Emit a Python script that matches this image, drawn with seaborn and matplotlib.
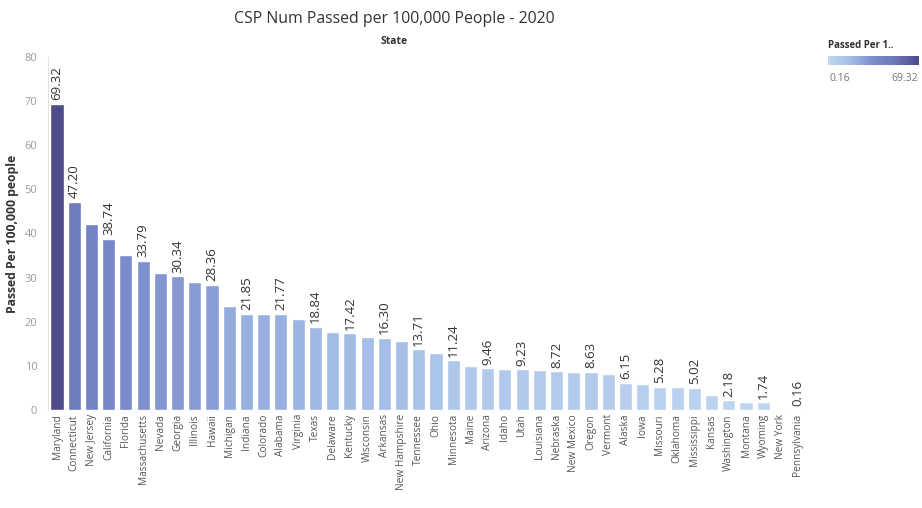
import numpy as np
import pandas as pd
import seaborn as sns
import matplotlib
matplotlib.use("Agg")
import matplotlib.pyplot as plt
from matplotlib.colors import LinearSegmentedColormap, Normalize

# ==========================================
# 1. DADOS
# ==========================================
states = [
    "Maryland", "Connecticut", "New Jersey", "California", "Florida",
    "Massachusetts", "Nevada", "Georgia", "Illinois", "Hawaii",
    "Michigan", "Indiana", "Colorado", "Alabama", "Virginia",
    "Texas", "Delaware", "Kentucky", "Wisconsin", "Arkansas",
    "New Hampshire", "Tennessee", "Ohio", "Minnesota", "Maine",
    "Arizona", "Idaho", "Utah", "Louisiana", "Nebraska",
    "New Mexico", "Oregon", "Vermont", "Alaska", "Iowa",
    "Missouri", "Oklahoma", "Mississippi", "Kansas", "Washington",
    "Montana", "Wyoming", "New York", "Pennsylvania",
]
passed_per_100k = [
    69.32, 47.20, 42.10, 38.74, 35.20,
    33.79, 31.00, 30.34, 29.10, 28.36,
    23.60, 21.85, 21.80, 21.77, 20.55,
    18.84, 17.65, 17.42, 16.60, 16.30,
    15.60, 13.71, 12.80, 11.24, 9.95,
    9.46, 9.35, 9.23, 9.00, 8.72,
    8.65, 8.63, 8.10, 6.15, 5.90,
    5.28, 5.10, 5.02, 3.40, 2.18,
    1.80, 1.74, np.nan, 0.16,
]
# estados com rótulo de valor visível
labeled = [
    "Maryland", "Connecticut", "California", "Massachusetts", "Georgia",
    "Hawaii", "Indiana", "Alabama", "Texas", "Kentucky", "Arkansas",
    "Tennessee", "Minnesota", "Arizona", "Utah", "Nebraska", "Oregon",
    "Alaska", "Missouri", "Mississippi", "Washington", "Wyoming",
    "Pennsylvania",
]

df = pd.DataFrame({"State": states, "Passed": passed_per_100k})

# ==========================================
# 2. PALETA
# ==========================================
cores = ["#c2d8f2", "#a2bce6", "#7b8ccb", "#6b76b8", "#4e4b89"]
cmap = LinearSegmentedColormap.from_list("bluepurple", cores)
vmin, vmax = np.nanmin(passed_per_100k), np.nanmax(passed_per_100k)
norm = Normalize(vmin=vmin, vmax=vmax)
paleta = {s: cmap(norm(v if not np.isnan(v) else vmin)) for s, v in zip(states, passed_per_100k)}

# ==========================================
# 3. GRÁFICO
# ==========================================
sns.set_style("white")
plt.rcParams["font.family"] = ["Open Sans", "DejaVu Sans"]

fig = plt.figure(figsize=(9.22, 5.08), dpi=100)
ax = fig.add_axes([0.0525, 0.193, 0.822, 0.695])

sns.barplot(data=df, x="State", y="Passed", hue="State", palette=paleta,
            order=states, legend=False, width=0.76, ax=ax, saturation=1)

ax.set_ylim(0, 80)
ax.set_xlim(-0.5, len(states) - 0.5)
ax.set_yticks(range(0, 81, 10))
ax.tick_params(axis="y", colors="#9a9a9a", labelsize=8, length=0, pad=8)
ax.tick_params(axis="x", colors="#555555", labelsize=7.3, length=0, pad=3,
               labelrotation=90)
for lbl in ax.get_xticklabels():
    lbl.set_verticalalignment("top")

for sp in ["top", "right", "bottom"]:
    ax.spines[sp].set_visible(False)
ax.spines["left"].set_color("#e2e2e2")

ax.set_xlabel("")
ax.set_ylabel("Passed Per 100,000 people", fontsize=8.8, fontweight="bold",
              color="#333333", labelpad=4)

# rótulos de valor
for i, (s, v) in enumerate(zip(states, passed_per_100k)):
    if s in labeled and not np.isnan(v):
        ax.text(i, v + 0.8, f"{v:.2f}", rotation=90, ha="center", va="bottom",
                fontsize=9.5, color="#333333")

# títulos
fig.text(0.428, 0.962, "CSP Num Passed per 100,000 People - 2020",
         ha="center", va="center", fontsize=11.4, color="#333333")
fig.text(0.428, 0.918, "State", ha="center", va="center", fontsize=7.5,
         fontweight="bold", color="#333333")

# legenda de cor
fig.text(0.898, 0.91, "Passed Per 1..", ha="left", va="center", fontsize=7,
         fontweight="bold", color="#333333")
cax = fig.add_axes([0.898, 0.872, 0.098, 0.018])
cax.imshow(np.linspace(vmin, vmax, 200).reshape(1, -1), aspect="auto",
           cmap=cmap, norm=norm)
cax.set_axis_off()
fig.text(0.900, 0.845, f"{vmin:.2f}", ha="left", va="center", fontsize=7.5,
         color="#777777")
fig.text(0.996, 0.845, f"{vmax:.2f}", ha="right", va="center", fontsize=7.5,
         color="#777777")

plt.savefig("out.png", dpi=100)
